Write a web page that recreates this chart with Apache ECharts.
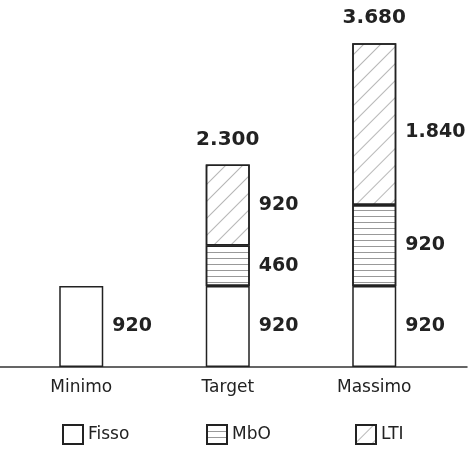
<!DOCTYPE html>
<html>
<head>
<meta charset="utf-8">
<script src="https://cdn.jsdelivr.net/npm/echarts@6/dist/echarts.min.js"></script>
<style>html,body{margin:0;padding:0;background:#fff;}#c{width:475px;height:450px;}</style>
</head>
<body>
<div id="c"></div>
<script>
const categories = ['Minimo', 'Target', 'Massimo'];
const fisso = [920, 920, 920];
const mbo = [null, 460, 920];
const lti = [null, 920, 1840];
const totals = [null, 2300, 3680];
const seriesNames = ['Fisso', 'MbO', 'LTI'];

const fmt = v => String(v).replace(/\B(?=(\d{3})+(?!\d))/g, '.');
const FONT = 'DejaVu Sans';
const TXT = '#222';

const segLabel = {
  show: true, position: 'right', distance: 9,
  fontFamily: FONT, fontWeight: 'bold', fontSize: 19, color: TXT,
  formatter: p => fmt(p.value)
};
const baseStyle = { color: '#fff', borderColor: '#222', borderWidth: 1.5 };

const chart = echarts.init(document.getElementById('c'), null, { renderer: 'canvas' });
chart.setOption({
  animation: false,
  backgroundColor: '#fff',
  grid: [
    { left: 8, right: 27.5, top: 15, bottom: 83 },
    { left: 0, right: 8, top: 15, bottom: 83 }
  ],
  xAxis: [
    { type: 'category', data: categories, gridIndex: 0,
      axisLine: { show: false }, axisTick: { show: false },
      axisLabel: { fontFamily: FONT, fontSize: 17, color: TXT, margin: 12 } },
    { type: 'value', gridIndex: 1, min: 0, max: 1,
      axisLine: { show: true, onZero: false, lineStyle: { color: '#333', width: 1.5 } },
      axisTick: { show: false }, axisLabel: { show: false }, splitLine: { show: false } }
  ],
  yAxis: [
    { type: 'value', gridIndex: 0, min: 0, max: 4000, show: false },
    { type: 'value', gridIndex: 1, min: 0, max: 1, show: false }
  ],
  legend: seriesNames.map((n, i) => ({
    data: [n], left: [57, 201, 350][i], top: 419,
    icon: 'rect', itemWidth: 20, itemHeight: 19, itemGap: 6,
    textStyle: { fontFamily: FONT, fontSize: 17, color: TXT }
  })),
  series: [
    { name: 'Fisso', type: 'bar', stack: 's', barWidth: 44, data: fisso,
      itemStyle: baseStyle, label: segLabel },
    { name: 'MbO', type: 'bar', stack: 's', barWidth: 44, data: mbo,
      itemStyle: Object.assign({}, baseStyle, {
        decal: { symbol: 'rect', dashArrayX: [1, 0], dashArrayY: [1, 5], rotation: 0, color: 'rgba(0,0,0,0.4)' }
      }), label: segLabel },
    { name: 'LTI', type: 'bar', stack: 's', barWidth: 44,
      data: lti.map((v, i) => i === 2 ? { value: v, label: { offset: [0, 8] } } : v),
      itemStyle: Object.assign({}, baseStyle, {
        decal: { symbol: 'rect', dashArrayX: [1, 0], dashArrayY: [1, 11], rotation: -Math.PI / 4, color: 'rgba(0,0,0,0.28)' }
      }), label: segLabel },
    { name: 'Totale', type: 'bar', stack: 's', barWidth: 44,
      data: totals.map(t => t == null ? '-' : 0),
      itemStyle: { color: 'rgba(0,0,0,0)', borderWidth: 0 },
      label: { show: true, position: 'top', distance: 15,
        fontFamily: FONT, fontWeight: 'bold', fontSize: 20, color: TXT,
        formatter: p => totals[p.dataIndex] == null ? '' : fmt(totals[p.dataIndex]) } }
  ]
});
</script>
</body>
</html>
